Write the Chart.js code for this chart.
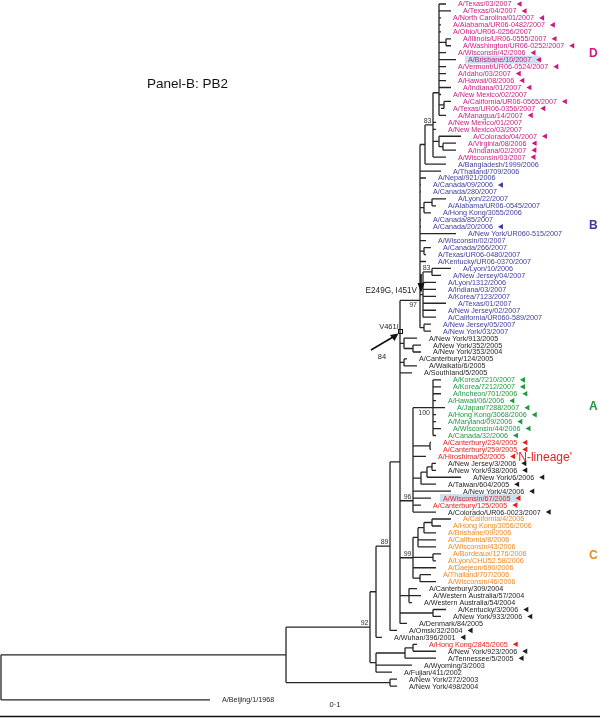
<!DOCTYPE html>
<html>
<head>
<meta charset="utf-8">
<script src="https://cdn.jsdelivr.net/npm/chart.js@4.4.0/dist/chart.umd.min.js"></script>
<style>
html,body{margin:0;padding:0;background:#fff;}
#wrap{position:relative;width:600px;height:718px;}
</style>
</head>
<body>
<div id="wrap"><canvas id="tree"></canvas></div>
<script>
// strain names, top to bottom (last one is the outgroup)
const leafNames = [
  'A/Texas/03/2007','A/Texas/04/2007','A/North Carolina/01/2007','A/Alabama/UR06-0482/2007','A/Ohio/UR06-0256/2007',
  'A/Illinois/UR06-0555/2007','A/Washington/UR06-0252/2007','A/Wisconsin/42/2006','A/Brisbane/10/2007','A/Vermont/UR06-0524/2007',
  'A/Idaho/03/2007','A/Hawaii/08/2006','A/Indiana/01/2007','A/New Mexico/02/2007','A/California/UR06-0565/2007',
  'A/Texas/UR06-0356/2007','A/Managua/14/2007','A/New Mexico/01/2007','A/New Mexico/03/2007','A/Colorado/04/2007',
  'A/Virginia/08/2006','A/Indiana/02/2007','A/Wisconsin/03/2007',
  'A/Bangladesh/1999/2006','A/Thailand/709/2006','A/Nepal/921/2006','A/Canada/09/2006','A/Canada/280/2007',
  'A/Lyon/22/2007','A/Alabama/UR06-0545/2007','A/Hong Kong/3055/2006','A/Canada/85/2007','A/Canada/20/2006',
  'A/New York/UR060-515/2007','A/Wisconsin/02/2007','A/Canada/266/2007','A/Texas/UR06-0480/2007','A/Kentucky/UR06-0370/2007',
  'A/Lyon/10/2006','A/New Jersey/04/2007','A/Lyon/1312/2006','A/Indiana/03/2007','A/Korea/7123/2007',
  'A/Texas/01/2007','A/New Jersey/02/2007','A/California/UR060-589/2007','A/New Jersey/05/2007','A/New York/03/2007',
  'A/New York/913/2005','A/New York/352/2005','A/New York/353/2004','A/Canterbury/124/2005','A/Waikato/6/2005','A/Southland/5/2005',
  'A/Korea/7210/2007','A/Korea/7212/2007','A/Incheon/701/2006','A/Hawaii/06/2006','A/Japan/7288/2007',
  'A/Hong Kong/3068/2006','A/Maryland/09/2006','A/Wisconsin/44/2006','A/Canada/32/2006',
  'A/Canterbury/234/2005','A/Canterbury/259/2005','A/Hiroshima/52/2005',
  'A/New Jersey/3/2006','A/New York/938/2006','A/New York/6/2006','A/Taiwan/604/2005','A/New York/4/2006',
  'A/Wisconsin/67/2005','A/Canterbury/125/2005','A/Colorado/UR06-0023/2007',
  'A/California/4/2006','A/Hong Kong/3056/2006','A/Brisbane/09/2006','A/California/8/2006','A/Wisconsin/43/2006',
  'A/Bordeaux/1276/2006','A/Lyon/CHU52.58/2006','A/Daejeon/690/2006','A/Thailand/707/2006','A/Wisconsin/46/2006',
  'A/Canterbury/309/2004','A/Western Australia/57/2004','A/Western Australia/54/2004','A/Kentucky/3/2006','A/New York/933/2006',
  'A/Denmark/84/2005','A/Omsk/32/2004','A/Wuhan/396/2001','A/Hong Kong/2845/2005','A/New York/923/2006',
  'A/Tennessee/5/2005','A/Wyoming/3/2003','A/Fujian/411/2002','A/New York/272/2003','A/New York/498/2004',
  'A/Beijing/1/1968'
];
// colour group of each strain (d,b,a,c clades, r = N-lineage red, k = black)
const leafGroup = [].concat(
  Array(23).fill('d'), Array(25).fill('b'), Array(6).fill('k'), Array(9).fill('a'),
  Array(3).fill('r'), Array(5).fill('k'), Array(2).fill('r'), ['k'],
  Array(10).fill('c'), Array(8).fill('k'), ['r'], Array(7).fill('k')
);
// branch tip (distance from root) of each strain
const leafTip = [
  446,451,441,441,441,451,451,446,456,446,446,446,451,441,451,441,446,436,436,461,456,456,446,
  446,441,426,421,421,446,436,431,421,421,456,426,431,426,426,451,441,436,436,436,446,436,436,431,431,
  417,421,421,407,417,412,
  441,441,441,436,445,436,436,441,436,
  431,431,426,436,436,461,436,451,431,421,436,
  451,441,436,436,436,441,436,436,431,436,
  417,421,412,446,441,407,397,382,417,436,436,412,392,397,397,
  210
];
// strains flagged with a marker, and the two boxed strains
const marked = [0,1,2,3,5,6,7,8,9,10,11,12,14,15,16,19,20,21,22,26,32,
  54,55,56,57,58,59,60,61,62,63,64,65,66,67,68,69,70,71,72,73,87,88,90,91,92,93,94];
const boxed = [8, 71];

// tree topology: node = {x, kids, boot}; leaves are strain indices
const n = (x, kids, boot) => ({x, kids, boot});
const ladder = (x, items, boot) => {
  let acc = items[0];
  for (let i = 1; i < items.length; i++) acc = n(x, [acc, items[i]]);
  acc.boot = boot;
  return acc;
};
const dTop = n(439, [n(439, [n(439, [0,1,2,3,4, n(446,[5,6]), 7,8,9,10,11,12]), 13]), n(444,[14,15]), 16]);
const dNode = n(433, [dTop, 17, 18, n(439, [19, n(443,[20,21])]), 22], '83');
const n83 = n(425, [dNode, 23]);
const n83b = n(423, [n(432,[38,39],'83'), 40,41,42,43,44,45]);
const n97 = ladder(420, [n83, 24, 25, 26, 27, n(424,[n(432,[28,29]),30]), 31, 32, 33, 34,
  n(424,[35,36]), 37, n83b, n(424,[46,47])], '97');
const a100 = n(433, [54,55,56,57,58,59,60,61,62], '100');
const nBlk = n(421, [n(427, [n(432,[66,67]), 68]), 69]);
const n96 = ladder(413, [n(413, [a100, n(430,[63,64]), 65, nBlk, 70]), 71, 72, 73], '96');
const c99 = n(413, [n(418, [n(424, [n(432,[74,75]), 76]), 77, 78]), n(433,[79,80]), 81, n(420,[82,83])], '99');
const n98 = n(400, [n97, n(404,[48, n(413,[49,50])]), n(404,[51,52]), 53, n96, c99,
  n(409,[84,85,86]), n(433,[87,88]), 89]);
const n89 = n(390, [n98, 90], '89');
const nx = n(376, [n89, 91]);
const ny = n(376, [n(405, [n(413,[92,93]), 94]), 95, 96]);
const n92 = n(370, [nx, ny], '92');
const root = n(1, [n(286, [n92, n(390,[97,98])]), 99]);

const colors = {d:'#cc1a84', b:'#3c3c9c', a:'#1f9a40', c:'#ef8a22', r:'#e52420', k:'#1e1e1e'};
const rowOf = i => i === leafNames.length - 1 ? i + 1 : i;
const labelGap = 12;

// build branch segments
const segs = [], nodes = [];
function place(node, parentX) {
  if (typeof node === 'number') {
    const y = rowOf(node);
    segs.push([parentX, y, leafTip[node], y]);
    return y;
  }
  const ys = node.kids.map(k => place(k, node.x));
  const y = (ys[0] + ys[ys.length - 1]) / 2;
  segs.push([node.x, ys[0], node.x, ys[ys.length - 1]]);
  if (parentX !== null) segs.push([parentX, y, node.x, y]);
  node.y = y;
  nodes.push(node);
  return y;
}
place(root, null);
const lineData = [];
segs.forEach(s => {
  lineData.push({x: s[0], y: s[1]}, {x: s[2], y: s[3]}, {x: NaN, y: NaN});
});

const FONT = '"Liberation Sans", Arial, sans-serif';
const treeText = {
  id: 'treeText',
  beforeDatasetsDraw(chart) {
    const ctx = chart.ctx, sx = chart.scales.x, sy = chart.scales.y;
    ctx.save();
    ctx.font = '7.2px ' + FONT;
    boxed.forEach(i => {
      const x = sx.getPixelForValue(leafTip[i] + labelGap), y = sy.getPixelForValue(rowOf(i));
      const w = ctx.measureText(leafNames[i]).width;
      ctx.fillStyle = '#c9e0ee';
      ctx.fillRect(x - 3, y - 4, w + 12, 8);
    });
    ctx.restore();
  },
  afterDatasetsDraw(chart) {
    const ctx = chart.ctx, sx = chart.scales.x, sy = chart.scales.y;
    ctx.save();
    ctx.font = '7.2px ' + FONT;
    ctx.textBaseline = 'middle';
    leafNames.forEach((name, i) => {
      const x = sx.getPixelForValue(leafTip[i] + labelGap), y = sy.getPixelForValue(rowOf(i));
      ctx.fillStyle = colors[leafGroup[i]];
      ctx.fillText(name, x, y + 0.5);
      if (marked.includes(i)) {
        const ex = x + ctx.measureText(name).width + 5;
        ctx.beginPath();
        ctx.moveTo(ex, y);
        ctx.lineTo(ex + 5, y - 2.8);
        ctx.lineTo(ex + 5, y + 2.8);
        ctx.closePath();
        ctx.fill();
      }
    });
    // bootstrap values
    ctx.font = '7px ' + FONT;
    ctx.fillStyle = '#333';
    ctx.textAlign = 'right';
    ctx.textBaseline = 'alphabetic';
    nodes.filter(d => d.boot).forEach(d => {
      const below = d.boot === '97' || d.boot === '100';
      const x = sx.getPixelForValue(d.x), y = sy.getPixelForValue(d.y);
      if (below) ctx.fillText(d.boot, x - 3, y + 7);
      else ctx.fillText(d.boot, x - 1.5, y - 2);
    });
    // clade tags
    ctx.textAlign = 'left';
    ctx.textBaseline = 'middle';
    ctx.font = 'bold 12px ' + FONT;
    [['D', 'd', 7.1], ['B', 'b', 31.9], ['A', 'a', 57.8], ['C', 'c', 79.2]].forEach(t => {
      ctx.fillStyle = colors[t[1]];
      ctx.fillText(t[0], 589, sy.getPixelForValue(t[2]));
    });
    ctx.font = '12px ' + FONT;
    ctx.fillStyle = colors.r;
    ctx.fillText("'N-lineage'", 516, sy.getPixelForValue(65.2));
    ctx.font = '13.5px ' + FONT;
    ctx.fillStyle = '#111';
    ctx.fillText('Panel-B: PB2', 147, 84);
    // mutation notes
    ctx.font = '8.2px ' + FONT;
    ctx.fillStyle = '#222';
    ctx.textAlign = 'right';
    ctx.fillText('E249G, I451V', 417, 291);
    ctx.font = '7.5px ' + FONT;
    ctx.textAlign = 'center';
    ctx.fillText('V461I', 389, 327);
    ctx.fillText('84', 382, 357);
    ctx.fillText('0·1', 335, 705);
    ctx.strokeStyle = '#111';
    ctx.fillStyle = '#111';
    ctx.lineWidth = 1.6;
    ctx.beginPath(); ctx.moveTo(421, 274); ctx.lineTo(421, 284); ctx.stroke();
    ctx.beginPath(); ctx.moveTo(417.5, 283); ctx.lineTo(424.5, 283); ctx.lineTo(421, 293); ctx.closePath(); ctx.fill();
    ctx.beginPath(); ctx.moveTo(371, 350); ctx.lineTo(393, 337); ctx.stroke();
    ctx.beginPath(); ctx.moveTo(398.5, 333.5); ctx.lineTo(390, 335); ctx.lineTo(394.5, 341); ctx.closePath(); ctx.fill();
    ctx.lineWidth = 1;
    ctx.strokeRect(398.5, 329.5, 4, 4);
    // bottom rule
    ctx.lineWidth = 1.6;
    ctx.beginPath(); ctx.moveTo(0, 716.5); ctx.lineTo(600, 716.5); ctx.stroke();
    ctx.restore();
  }
};

new Chart(document.getElementById('tree'), {
  type: 'scatter',
  data: {
    datasets: [{
      data: lineData,
      showLine: true,
      spanGaps: false,
      borderColor: '#262626',
      borderWidth: 1.3,
      pointRadius: 0,
      pointHoverRadius: 0,
      tension: 0
    }]
  },
  options: {
    responsive: true,
    maintainAspectRatio: false,
    animation: false,
    events: [],
    layout: {padding: 0},
    plugins: {legend: {display: false}, tooltip: {enabled: false}},
    scales: {
      x: {type: 'linear', min: 0, max: 600, display: false},
      y: {type: 'linear', min: -0.575, max: 102.59, reverse: true, display: false}
    }
  },
  plugins: [treeText]
});
</script>
</body>
</html>
